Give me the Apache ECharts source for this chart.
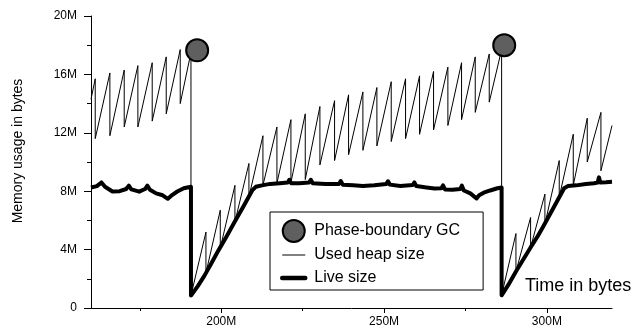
<!DOCTYPE html>
<html>
<head>
<meta charset="utf-8">
<script src="https://cdn.jsdelivr.net/npm/echarts@6/dist/echarts.min.js"></script>
<style>html,body{margin:0;padding:0;background:#fff}#c{width:635px;height:330px}</style>
</head>
<body>
<div id="c"></div>
<script>
// ---- data (x in M bytes of time, y in M bytes of memory) ----
var heapX = [160,161.3,161.3,165.8,165.8,170.2,170.2,174.4,174.4,178.8,178.8,183.1,183.1,187.4,187.4,190.7,190.7,
  195.3,195.3,199.7,199.7,204.2,204.2,208.5,208.5,212.8,212.8,217.1,217.1,221.4,221.4,225.8,225.8,230.3,230.3,
  234.8,234.8,239.1,239.1,243.5,243.5,247.8,247.8,252.2,252.2,256.6,256.6,260.9,260.9,265.2,265.2,269.6,269.6,
  273.8,273.8,278.0,278.0,282.3,282.3,286.1,286.1,
  290.5,290.5,295.0,295.0,299.4,299.4,303.8,303.8,308.1,308.1,312.4,312.4,316.6,316.6,320];
var heapY = [14.3,15.7,11.6,16.1,11.8,16.3,12.4,16.6,12.4,16.8,12.8,17.2,13.3,17.7,14.0,17.5,0.85,
  5.2,2.4,6.7,4.1,8.4,5.9,9.9,7.6,11.8,8.4,12.4,8.55,12.9,8.6,13.3,8.8,13.8,9.8,
  14.2,10.1,14.6,10.5,14.8,10.8,15.1,11.1,15.5,11.4,15.7,11.6,15.9,11.9,16.2,12.2,16.5,12.5,
  16.8,12.9,17.2,13.4,17.4,14.1,17.7,0.87,
  5.1,2.5,6.2,4.15,7.8,5.75,10.1,7.6,11.9,8.4,13.0,10.0,13.4,9.4,12.5];

var liveX = [160,161.8,163.2,164.3,166.6,168.8,170.8,171.6,172.4,174.8,176.6,177.3,178.1,180,182,183.6,185,186.5,188.5,190.7,190.7,
  192.8,194.8,196.8,198.9,201.5,204.0,206.8,209.5,210.6,
  212.5,215,218,220.4,220.9,221.5,224,227,227.5,228.1,232,236.2,236.7,237.3,240.5,243.5,247,250.7,251.2,251.8,255,
  258.8,259.3,259.9,263,265.5,267.6,268.1,268.7,271,273.4,273.9,274.5,276.5,278.4,279.2,280.6,282.6,284.8,286.1,286.1,
  288.2,290.5,292.7,295,297,298.8,302,305.3,306.5,309,312,314.5,315.6,316.0,316.4,318.2,320];
var liveY = [8.25,8.35,8.6,8.3,7.98,8.0,8.15,8.38,8.12,7.97,8.15,8.38,8.1,7.85,7.72,7.48,7.75,7.98,8.2,8.3,0.85,
  1.5,2.2,3.0,3.85,4.85,5.85,6.95,8.05,8.3,
  8.4,8.5,8.55,8.6,8.78,8.55,8.55,8.6,8.78,8.55,8.5,8.5,8.7,8.45,8.4,8.35,8.4,8.5,8.68,8.45,8.35,
  8.42,8.6,8.35,8.25,8.18,8.2,8.4,8.12,8.1,8.15,8.38,8.05,7.85,7.5,7.72,7.9,8.05,8.2,8.25,0.87,
  1.6,2.5,3.3,4.15,4.85,5.55,6.85,8.2,8.35,8.4,8.5,8.55,8.6,8.95,8.6,8.62,8.65];

var gcX = [192.6, 286.9];
var gcY = [17.65, 18.0];

var xLabelValues = [200, 250, 300];
var xMinorTickValues = [175, 225, 275];
var seriesNames = ['Phase-boundary GC', 'Used heap size', 'Live size'];

function zip(a, b) { return a.map(function (v, i) { return [v, b[i]]; }); }

var FONT = '"Liberation Sans", Arial, sans-serif';
var chart = echarts.init(document.getElementById('c'), null, { renderer: 'canvas' });
chart.setOption({
  animation: false,
  backgroundColor: '#fff',
  grid: { left: 91, right: 23, top: 16, bottom: 22 },
  xAxis: [{
    type: 'value', min: 160, max: 320,
    axisLine: { show: true, onZero: false, lineStyle: { color: '#000', width: 1 } },
    axisTick: { show: true, customValues: xLabelValues, length: 5, lineStyle: { color: '#000' } },
    axisLabel: { show: true, customValues: xLabelValues, margin: 8, color: '#000', fontSize: 12, fontFamily: FONT,
      formatter: function (v) { return v + 'M'; } },
    splitLine: { show: false }
  }, {
    type: 'value', min: 160, max: 320, position: 'bottom',
    axisLine: { show: false },
    axisTick: { show: true, customValues: xMinorTickValues, length: 3, lineStyle: { color: '#000' } },
    axisLabel: { show: false },
    splitLine: { show: false }
  }],
  yAxis: {
    type: 'value', min: 0, max: 20, interval: 4,
    axisLine: { show: true, lineStyle: { color: '#000', width: 1 } },
    axisTick: { show: true, length: 7, lineStyle: { color: '#000' } },
    minorTick: { show: true, splitNumber: 2, length: 4, lineStyle: { color: '#000' } },
    axisLabel: { margin: 14, color: '#000', fontSize: 12, fontFamily: FONT,
      formatter: function (v) { return v === 0 ? '0' : v + 'M'; } },
    splitLine: { show: false }
  },
  legend: {
    orient: 'vertical', left: 270, top: 212,
    padding: [7, 23, 1, 10],
    itemWidth: 23, itemHeight: 22, itemGap: 1,
    borderColor: '#000', borderWidth: 1, backgroundColor: '#fff',
    selectedMode: false,
    textStyle: { fontSize: 16, color: '#000', fontFamily: FONT, padding: [0, 0, 0, 4], lineHeight: 22 },
    data: [
      { name: seriesNames[0], icon: 'circle' },
      { name: seriesNames[1], itemStyle: { opacity: 0 }, lineStyle: { width: 1, color: '#000' } },
      { name: seriesNames[2], itemStyle: { opacity: 0 }, lineStyle: { width: 4.5, color: '#000', cap: 'round' } }
    ]
  },
  graphic: [
    { type: 'text', left: 525, top: 277, style: { text: 'Time in bytes', font: '18px ' + FONT, fill: '#000' } },
    { type: 'text', x: 18, y: 151, rotation: Math.PI / 2,
      style: { text: 'Memory usage in bytes', font: '14px ' + FONT, fill: '#000', align: 'center', verticalAlign: 'middle' } }
  ],
  series: [
    { name: seriesNames[1], type: 'line', data: zip(heapX, heapY), showSymbol: false, symbol: 'none',
      lineStyle: { color: '#000', width: 1 }, itemStyle: { color: '#000' }, z: 2 },
    { name: seriesNames[2], type: 'line', data: zip(liveX, liveY), showSymbol: false, symbol: 'none',
      lineStyle: { color: '#000', width: 4, join: 'round' }, itemStyle: { color: '#000' }, z: 3 },
    { name: seriesNames[0], type: 'scatter', data: zip(gcX, gcY), symbol: 'circle', symbolSize: 22,
      itemStyle: { color: '#5f5f5f', borderColor: '#000', borderWidth: 2, opacity: 1 }, z: 4 }
  ]
});
</script>
</body>
</html>
